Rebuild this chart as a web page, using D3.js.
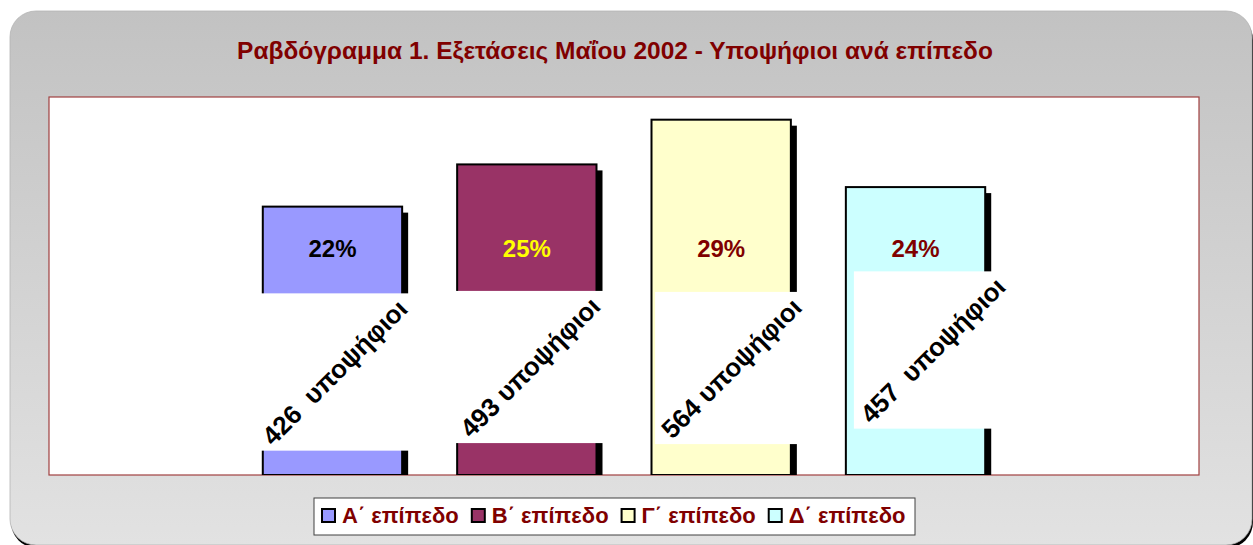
<!DOCTYPE html>
<html>
<head>
<meta charset="utf-8">
<script src="https://cdn.jsdelivr.net/npm/d3@7"></script>
<style>
  html, body { margin: 0; padding: 0; background: #fff; }
  svg { display: block; font-family: "Liberation Sans", Arial, sans-serif; }
</style>
</head>
<body>
<svg id="chart" width="1253" height="545"></svg>
<script>
// data
const levels = ["Α΄ επίπεδο", "Β΄ επίπεδο", "Γ΄ επίπεδο", "Δ΄ επίπεδο"]
const candidates = [426, 493, 564, 457]
const countLabels = ["426  υποψήφιοι", "493 υποψήφιοι", "564 υποψήφιοι", "457  υποψήφιοι"]
const title = "Ραβδόγραμμα 1. Εξετάσεις Μαΐου 2002 - Υποψήφιοι ανά επίπεδο"

// styling
const fills = ["#9999ff", "#993366", "#ffffcc", "#ccffff"]
const pctColors = ["#000000", "#ffff00", "#800000", "#800000"]
const dark = "#800000"
// where each rotated label sits: [dx from bar centre, rise above the baseline]
const labelShift = [[2, 103], [3, 108], [10, 107], [17, 125]]

const svg = d3.select("#chart")
const plot = { left: 49, top: 97, right: 1199, bottom: 475 }

const defs = svg.append("defs")
const grad = defs.append("linearGradient").attr("id", "panelGrad")
  .attr("x1", 0).attr("y1", 0).attr("x2", 0).attr("y2", 1)
grad.append("stop").attr("offset", "0%").attr("stop-color", "#c2c2c2")
grad.append("stop").attr("offset", "100%").attr("stop-color", "#e2e2e2")
defs.append("clipPath").attr("id", "plotClip")
  .append("rect")
  .attr("x", plot.left).attr("y", plot.top)
  .attr("width", plot.right - plot.left).attr("height", plot.bottom - plot.top)

// outer rounded panel with a small drop shadow
svg.append("rect")
  .attr("x", 11).attr("y", 14).attr("width", 1242).attr("height", 534)
  .attr("rx", 26).attr("fill", "#000")
svg.append("rect")
  .attr("x", 10).attr("y", 11).attr("width", 1242).attr("height", 534)
  .attr("rx", 26).attr("fill", "url(#panelGrad)")
  .attr("stroke", "#b4b4b4").attr("stroke-width", 0.8)

svg.append("text")
  .attr("x", 615).attr("y", 59)
  .attr("text-anchor", "middle")
  .attr("font-size", 24.5).attr("font-weight", "bold")
  .attr("fill", dark)
  .text(title)

// plot area
svg.append("rect")
  .attr("x", plot.left).attr("y", plot.top)
  .attr("width", plot.right - plot.left).attr("height", plot.bottom - plot.top)
  .attr("fill", "#fff").attr("stroke", "#a04040").attr("stroke-width", 1.2)

const x = d3.scaleBand()
  .domain(levels)
  .range([plot.left, plot.right])
  .paddingInner(0.283)
  .paddingOuter(1.1)

const y = d3.scaleLinear()
  .domain([0, 600])
  .range([plot.bottom, plot.top])

const bars = levels.map((l, i) => ({ level: l, value: candidates[i], i: i }))
const total = d3.sum(candidates)

const g = svg.append("g").attr("clip-path", "url(#plotClip)")

// shadows
g.selectAll("rect.shadow")
  .data(bars)
  .enter().append("rect")
    .attr("class", "shadow")
    .attr("x", d => x(d.level) + 6)
    .attr("y", d => y(d.value) + 6)
    .attr("width", x.bandwidth())
    .attr("height", d => y(0) - y(d.value))
    .attr("fill", "#000")

g.selectAll("rect.bar")
  .data(bars)
  .enter().append("rect")
    .attr("class", "bar")
    .attr("x", d => x(d.level))
    .attr("y", d => y(d.value))
    .attr("width", x.bandwidth())
    .attr("height", d => y(0) - y(d.value))
    .attr("fill", d => fills[d.i])
    .attr("stroke", "#000").attr("stroke-width", 2)

// percentage labels
svg.selectAll("text.pct")
  .data(bars)
  .enter().append("text")
    .attr("class", "pct")
    .attr("x", d => x(d.level) + x.bandwidth() / 2)
    .attr("y", y(360))
    .attr("dy", "0.36em")
    .attr("text-anchor", "middle")
    .attr("font-size", 24).attr("font-weight", "bold")
    .attr("fill", d => pctColors[d.i])
    .text(d => Math.round(d.value / total * 100) + "%")

// rotated count labels on white boxes
const lab = svg.selectAll("g.count")
  .data(bars)
  .enter().append("g")
    .attr("class", "count")
    .attr("transform", d => {
      const cx = x(d.level) + x.bandwidth() / 2 + labelShift[d.i][0]
      const cy = y(0) - labelShift[d.i][1]
      return `translate(${cx},${cy})`
    })

const boxes = lab.append("rect").attr("fill", "#fff")

lab.append("text")
  .attr("transform", "rotate(-45)")
  .attr("text-anchor", "middle")
  .attr("dy", "0.36em")
  .attr("font-size", 26).attr("font-weight", "bold")
  .attr("fill", "#000")
  .style("white-space", "pre")
  .text(d => countLabels[d.i])
  .each(function(d) {
    const bb = this.getBBox()
    d.box = (bb.width + bb.height) / Math.SQRT2
  })

boxes
  .attr("x", d => -d.box / 2)
  .attr("y", d => -d.box / 2)
  .attr("width", d => d.box)
  .attr("height", d => d.box)

// legend
const legend = svg.append("g")
legend.append("rect")
  .attr("x", 314).attr("y", 498).attr("width", 601).attr("height", 37)
  .attr("fill", "#fff").attr("stroke", "#404040").attr("stroke-width", 1)

let lx = 322
levels.forEach((l, i) => {
  legend.append("rect")
    .attr("x", lx).attr("y", 509).attr("width", 13).attr("height", 13)
    .attr("fill", fills[i]).attr("stroke", "#000").attr("stroke-width", 2)
  const t = legend.append("text")
    .attr("x", lx + 20).attr("y", 523)
    .attr("font-size", 22).attr("font-weight", "bold")
    .attr("fill", dark)
    .text(l)
  lx += 20 + t.node().getComputedTextLength() + 13
})
</script>
</body>
</html>
